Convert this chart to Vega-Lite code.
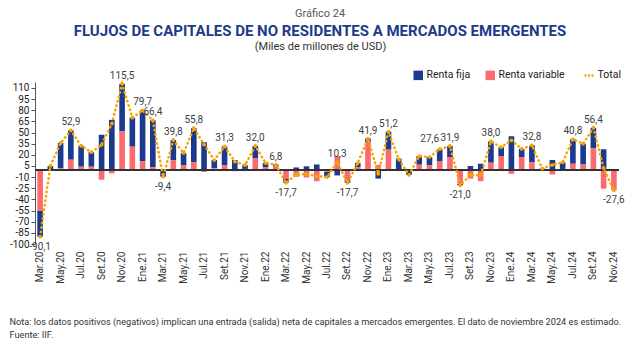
{
  "$schema": "https://vega.github.io/schema/vega-lite/v6.json",
  "autosize": {"type": "none"},
  "padding": {"left": 35, "top": 82, "right": 21, "bottom": 102},
  "width": 584,
  "height": 162,
  "background": "white",
  "title": {
    "text": "Gráfico 24",
    "subtitle": "FLUJOS DE CAPITALES DE NO RESIDENTES A MERCADOS EMERGENTES",
    "anchor": "middle",
    "frame": "group",
    "dx": -7,
    "offset": 1,
    "font": "Roboto",
    "fontSize": 11,
    "fontWeight": "normal",
    "color": "#595959",
    "subtitleFont": "Roboto",
    "subtitleFontSize": 15,
    "subtitleFontWeight": "bold",
    "subtitleColor": "#1d3a8a",
    "subtitlePadding": 5
  },
  "data": {
    "values": [
      {"mes": "Mar.20", "fija": -35.1, "variable": -55, "total": -90.1, "label": true},
      {"mes": "Abr.20", "fija": 4.5, "variable": 0.5, "total": 5, "label": false},
      {"mes": "May.20", "fija": 34, "variable": 2, "total": 36, "label": false},
      {"mes": "Jun.20", "fija": 39.5, "variable": 13.4, "total": 52.9, "label": true},
      {"mes": "Jul.20", "fija": 28, "variable": 4, "total": 32, "label": false},
      {"mes": "Ago.20", "fija": 19.5, "variable": 4, "total": 23.5, "label": false},
      {"mes": "Set.20", "fija": 47, "variable": -13.5, "total": 33.5, "label": false},
      {"mes": "Oct.20", "fija": 67, "variable": -5, "total": 62, "label": false},
      {"mes": "Nov.20", "fija": 64, "variable": 51.5, "total": 115.5, "label": true},
      {"mes": "Dic.20", "fija": 39, "variable": 31, "total": 70, "label": false},
      {"mes": "Ene.21", "fija": 68.5, "variable": 11.2, "total": 79.7, "label": true},
      {"mes": "Feb.21", "fija": 63, "variable": 3.4, "total": 66.4, "label": true},
      {"mes": "Mar.21", "fija": -8.5, "variable": -0.9, "total": -9.4, "label": true},
      {"mes": "Abr.21", "fija": 27.3, "variable": 12.5, "total": 39.8, "label": true},
      {"mes": "May.21", "fija": 16.5, "variable": 5.8, "total": 22.3, "label": false},
      {"mes": "Jun.21", "fija": 45.6, "variable": 10.2, "total": 55.8, "label": true},
      {"mes": "Jul.21", "fija": 37, "variable": -3, "total": 34, "label": false},
      {"mes": "Ago.21", "fija": 11, "variable": 2, "total": 13, "label": false},
      {"mes": "Set.21", "fija": 25.5, "variable": 5.8, "total": 31.3, "label": true},
      {"mes": "Oct.21", "fija": 13, "variable": -2, "total": 11, "label": false},
      {"mes": "Nov.21", "fija": 5, "variable": 1, "total": 6, "label": false},
      {"mes": "Dic.21", "fija": 16.4, "variable": 15.6, "total": 32.0, "label": true},
      {"mes": "Ene.22", "fija": 6, "variable": 3, "total": 9, "label": false},
      {"mes": "Feb.22", "fija": 2.4, "variable": 4.4, "total": 6.8, "label": true},
      {"mes": "Mar.22", "fija": -5.2, "variable": -12.5, "total": -17.7, "label": true},
      {"mes": "Abr.22", "fija": 3, "variable": -9.5, "total": -6.5, "label": false},
      {"mes": "May.22", "fija": 4.5, "variable": -10.5, "total": -6, "label": false},
      {"mes": "Jun.22", "fija": 7, "variable": -15.5, "total": -8.5, "label": false},
      {"mes": "Jul.22", "fija": -7, "variable": -3, "total": -10, "label": false},
      {"mes": "Ago.22", "fija": -7.7, "variable": 18, "total": 10.3, "label": true},
      {"mes": "Set.22", "fija": -4.7, "variable": -13, "total": -17.7, "label": true},
      {"mes": "Oct.22", "fija": 6, "variable": 3, "total": 9, "label": false},
      {"mes": "Nov.22", "fija": 4.9, "variable": 37, "total": 41.9, "label": true},
      {"mes": "Dic.22", "fija": -12, "variable": 6.5, "total": -5.5, "label": false},
      {"mes": "Ene.23", "fija": 24.2, "variable": 27, "total": 51.2, "label": true},
      {"mes": "Feb.23", "fija": 15, "variable": -1, "total": 14, "label": false},
      {"mes": "Mar.23", "fija": -6, "variable": -1, "total": -7, "label": false},
      {"mes": "Abr.23", "fija": 11.5, "variable": 6.7, "total": 18.2, "label": false},
      {"mes": "May.23", "fija": 11, "variable": 6, "total": 17, "label": false},
      {"mes": "Jun.23", "fija": 16.6, "variable": 11, "total": 27.6, "label": true},
      {"mes": "Jul.23", "fija": 14.9, "variable": 17, "total": 31.9, "label": true},
      {"mes": "Ago.23", "fija": -2, "variable": -19, "total": -21.0, "label": true},
      {"mes": "Set.23", "fija": 5, "variable": -12, "total": -7, "label": false},
      {"mes": "Oct.23", "fija": 8, "variable": -15.5, "total": -7.5, "label": false},
      {"mes": "Nov.23", "fija": 28.6, "variable": 9.4, "total": 38.0, "label": true},
      {"mes": "Dic.23", "fija": 12, "variable": 18.3, "total": 30.3, "label": false},
      {"mes": "Ene.24", "fija": 45, "variable": -5.5, "total": 39.5, "label": false},
      {"mes": "Feb.24", "fija": 11, "variable": 17, "total": 28, "label": false},
      {"mes": "Mar.24", "fija": 22.6, "variable": 10.2, "total": 32.8, "label": true},
      {"mes": "Abr.24", "fija": 1, "variable": 0.5, "total": 1.5, "label": false},
      {"mes": "May.24", "fija": 13, "variable": -6.5, "total": 6.5, "label": false},
      {"mes": "Jun.24", "fija": 10, "variable": 0, "total": 10, "label": false},
      {"mes": "Jul.24", "fija": 32.8, "variable": 8, "total": 40.8, "label": true},
      {"mes": "Ago.24", "fija": 28, "variable": 7, "total": 35, "label": false},
      {"mes": "Set.24", "fija": 27.4, "variable": 29, "total": 56.4, "label": true},
      {"mes": "Oct.24", "fija": 27.5, "variable": -25.5, "total": 2, "label": false},
      {"mes": "Nov.24", "fija": -0.6, "variable": -27, "total": -27.6, "label": true}
    ]
  },
  "layer": [
    {
      "transform": [{"fold": ["fija", "variable"], "as": ["serie", "valor"]}],
      "mark": {"type": "bar"},
      "encoding": {
        "x": {
          "field": "mes", "type": "ordinal", "sort": null,
          "title": ["Nota: los datos positivos (negativos) implican una entrada (salida) neta de capitales a mercados emergentes. El dato de noviembre 2024 es estimado.", "Fuente: IIF."],
          "scale": {"paddingInner": 0.45, "paddingOuter": 0.225},
          "axis": {
            "values": ["Mar.20","May.20","Jul.20","Set.20","Nov.20","Ene.21","Mar.21","May.21","Jul.21","Set.21","Nov.21","Ene.22","Mar.22","May.22","Jul.22","Set.22","Nov.22","Ene.23","Mar.23","May.23","Jul.23","Set.23","Nov.23","Ene.24","Mar.24","May.24","Jul.24","Set.24","Nov.24"],
            "domain": false, "ticks": false,
            "labelAngle": 270, "labelFontSize": 10, "labelFont": "Roboto", "labelColor": "#333333", "labelPadding": 7,
            "titleFont": "Roboto", "titleFontSize": 9.2, "titleFontWeight": "normal", "titleColor": "#333333",
            "titleAnchor": "start", "titleAlign": "left", "titleBaseline": "top",
            "titleX": -26, "titleY": 73, "titleLineHeight": 13
          }
        },
        "y": {
          "field": "valor", "type": "quantitative", "stack": "zero",
          "title": "(Miles de millones de USD)",
          "scale": {"domain": [-100, 118], "nice": false, "zero": false},
          "axis": {
            "values": [-100,-85,-70,-55,-40,-25,-10,5,20,35,50,65,80,95,110],
            "tickCount": 30,
            "labelOverlap": false, "labelBound": false,
            "grid": false, "domainColor": "#555555", "tickColor": "#555555", "tickSize": 4,
            "labelFont": "Roboto", "labelFontSize": 10, "labelColor": "#222222", "labelPadding": 2,
            "titleAngle": 0, "titleX": 285, "titleY": -36, "titleAlign": "center", "titleBaseline": "middle",
            "titleFont": "Roboto", "titleFontSize": 11, "titleFontWeight": "normal", "titleColor": "#333333"
          }
        },
        "color": {
          "field": "serie", "type": "nominal",
          "scale": {"domain": ["fija", "variable", "total"], "range": ["#1b3a8f", "#fb6a6e", "#f6a400"]},
          "legend": {
            "orient": "none", "legendX": 378, "legendY": -12, "direction": "horizontal", "title": null,
            "labelFont": "Roboto", "labelFontSize": 10.5, "labelColor": "#222222",
            "symbolSize": 90, "columnPadding": 14, "labelOffset": 3,
            "labelExpr": "datum.label == 'fija' ? 'Renta fija' : (datum.label == 'variable' ? 'Renta variable' : 'Total')",
            "encode": {
              "symbols": {
                "update": {
                  "shape": {"signal": "datum.value == 'total' ? 'stroke' : 'square'"},
                  "stroke": {"signal": "datum.value == 'total' ? '#f6a400' : 'transparent'"},
                  "strokeWidth": {"signal": "datum.value == 'total' ? 2.5 : 0"},
                  "strokeDash": {"signal": "datum.value == 'total' ? [2, 1.5] : [1, 0]"}
                }
              }
            }
          }
        },
        "order": {"field": "serie", "sort": "descending"}
      }
    },
    {
      "mark": {"type": "rule", "color": "#333333", "strokeWidth": 1},
      "encoding": {"y": {"datum": 0, "title": "(Miles de millones de USD)"}}
    },
    {
      "mark": {"type": "line", "strokeWidth": 2.5, "strokeDash": [0.5, 4], "strokeCap": "round", "point": {"filled": true, "size": 14}},
      "encoding": {
        "x": {"field": "mes", "type": "ordinal", "sort": null, "title": ["Nota: los datos positivos (negativos) implican una entrada (salida) neta de capitales a mercados emergentes. El dato de noviembre 2024 es estimado.", "Fuente: IIF."]},
        "y": {"field": "total", "type": "quantitative", "title": "(Miles de millones de USD)"},
        "color": {"datum": "total"}
      }
    },
    {
      "transform": [{"filter": "datum.label && datum.total > 0 && datum.mes != 'Jun.23'"}],
      "mark": {"type": "text", "baseline": "bottom", "dy": -3, "font": "Roboto", "fontSize": 10, "color": "#404040"},
      "encoding": {
        "x": {"field": "mes", "type": "ordinal", "sort": null, "title": ["Nota: los datos positivos (negativos) implican una entrada (salida) neta de capitales a mercados emergentes. El dato de noviembre 2024 es estimado.", "Fuente: IIF."]},
        "y": {"field": "total", "type": "quantitative", "title": "(Miles de millones de USD)"},
        "text": {"field": "total", "type": "quantitative", "format": ".1f"}
      }
    },
    {
      "transform": [{"filter": "datum.mes == 'Jun.23'"}],
      "mark": {"type": "text", "baseline": "bottom", "dy": -5, "dx": -10, "font": "Roboto", "fontSize": 10, "color": "#404040"},
      "encoding": {
        "x": {"field": "mes", "type": "ordinal", "sort": null, "title": ["Nota: los datos positivos (negativos) implican una entrada (salida) neta de capitales a mercados emergentes. El dato de noviembre 2024 es estimado.", "Fuente: IIF."]},
        "y": {"field": "total", "type": "quantitative", "title": "(Miles de millones de USD)"},
        "text": {"field": "total", "type": "quantitative", "format": ".1f"}
      }
    },
    {
      "transform": [{"filter": "datum.label && datum.total < 0"}],
      "mark": {"type": "text", "baseline": "top", "dy": 5, "font": "Roboto", "fontSize": 10, "color": "#404040"},
      "encoding": {
        "x": {"field": "mes", "type": "ordinal", "sort": null, "title": ["Nota: los datos positivos (negativos) implican una entrada (salida) neta de capitales a mercados emergentes. El dato de noviembre 2024 es estimado.", "Fuente: IIF."]},
        "y": {"field": "total", "type": "quantitative", "title": "(Miles de millones de USD)"},
        "text": {"field": "total", "type": "quantitative", "format": ".1f"}
      }
    }
  ],
  "config": {
    "view": {"stroke": null},
    "locale": {"number": {"decimal": ",", "thousands": ".", "grouping": [3], "currency": ["", ""], "minus": "-"}}
  }
}
